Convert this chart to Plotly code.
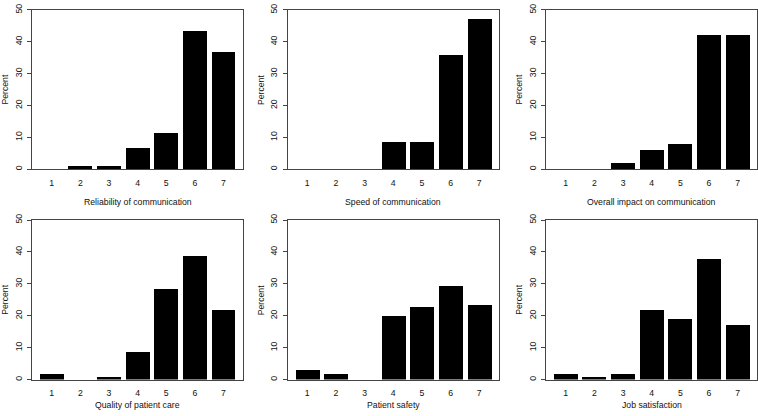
import plotly.graph_objects as go

categories = ["1", "2", "3", "4", "5", "6", "7"]

titles = [
    "Reliability of communication",
    "Speed of communication",
    "Overall impact on communication",
    "Quality of patient care",
    "Patient safety",
    "Job satisfaction",
]

reliability = [0.0, 0.9, 0.9, 6.6, 11.3, 43.4, 36.8]
speed = [0.0, 0.0, 0.0, 8.5, 8.5, 35.8, 47.2]
overall = [0.0, 0.0, 2.0, 5.9, 7.8, 42.2, 42.2]
quality = [1.9, 0.0, 0.9, 8.5, 28.3, 38.7, 21.7]
safety = [2.9, 1.9, 0.0, 19.8, 22.8, 29.2, 23.4]
job = [1.9, 0.9, 1.9, 21.7, 18.9, 37.7, 17.0]

series = [reliability, speed, overall, quality, safety, job]

y_ticks = [0, 10, 20, 30, 40, 50]

W, H = 758, 416
# box positions in pixels (left, right) and (top, bottom)
xboxes = [(32, 243.3), (287.5, 499), (546, 757.4)]
yboxes = [(4, 166), (217.7, 380)]

# bar centres as in R barplot (width 1, space 0.2)
centres = [0.7 + 1.2 * i for i in range(len(categories))]
xrange_ = [0.2 - 0.328, 8.4 + 0.328]

fig = go.Figure()
font = dict(family="Liberation Sans, Arial, sans-serif", size=8.7, color="#111")

for k, vals in enumerate(series):
    r, c = divmod(k, 3)
    xl, xr = xboxes[c]
    yt, yb = yboxes[r]
    xa = "x" if k == 0 else f"x{k+1}"
    ya = "y" if k == 0 else f"y{k+1}"
    fig.add_trace(go.Bar(
        x=centres, y=vals, width=1.0,
        marker=dict(color="black", line=dict(width=0)),
        xaxis=xa, yaxis=ya, showlegend=False, hoverinfo="skip",
    ))
    xkey = "xaxis" if k == 0 else f"xaxis{k+1}"
    ykey = "yaxis" if k == 0 else f"yaxis{k+1}"
    fig.layout[xkey] = dict(
        domain=[xl / W, xr / W], range=xrange_, anchor=ya,
        showline=True, linecolor="#444", linewidth=1, mirror=True,
        showgrid=False, zeroline=False, ticks="",
        tickmode="array", tickvals=centres, ticktext=categories,
        tickfont=font, ticklabelstandoff=5, fixedrange=True,
    )
    fig.layout[ykey] = dict(
        domain=[1 - yb / H, 1 - yt / H], range=[0, 50], anchor=xa,
        showline=True, linecolor="#444", linewidth=1, mirror=True,
        showgrid=False, zeroline=False, ticks="outside", ticklen=4,
        tickcolor="#444", tickwidth=1,
        tickmode="array", tickvals=y_ticks, ticktext=[str(v) for v in y_ticks],
        tickangle=-90, tickfont=font, ticklabelstandoff=2, fixedrange=True,
    )
    # x title
    fig.add_annotation(
        x=(xl + xr) / 2 / W, y=1 - ((yb + 33) if r == 0 else (yb + 26)) / H,
        xref="paper", yref="paper", text=titles[k], showarrow=False,
        font=font, xanchor="center", yanchor="middle",
    )
    # y title
    fig.add_annotation(
        x=(xl - 27) / W, y=1 - (yt + yb) / 2 / H,
        xref="paper", yref="paper", text="Percent", showarrow=False,
        font=font, textangle=-90, xanchor="center", yanchor="middle",
    )

fig.update_layout(
    width=W, height=H, margin=dict(l=0, r=0, t=0, b=0),
    paper_bgcolor="white", plot_bgcolor="white", bargap=0,
)

fig.write_html(
    "out.html",
    config={"displayModeBar": False},
    post_script="document.body.style.margin='0px';document.body.style.overflow='hidden';",
)
